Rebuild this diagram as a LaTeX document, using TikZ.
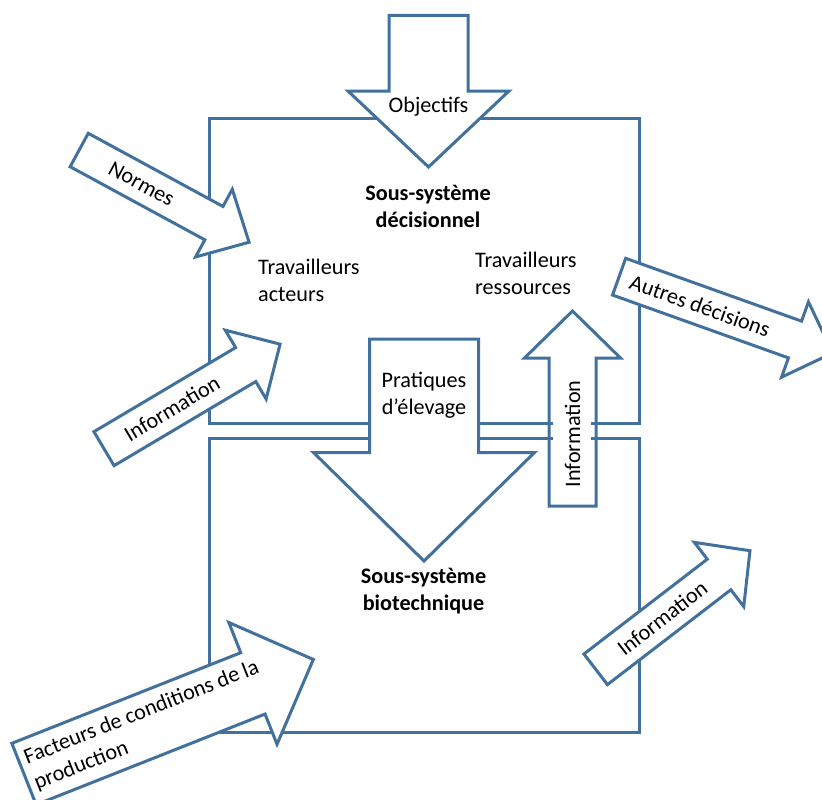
\documentclass[tikz,border=0pt]{standalone}
\usepackage{fontspec}
\setmainfont{Carlito}
\definecolor{boxblue}{HTML}{41719C}
\tikzset{
  frame/.style={draw=boxblue, line width=3pt, inner sep=0pt},
  bline/.style={draw=boxblue, line width=3pt},
  arrowbox/.style={draw=boxblue, line width=3pt, fill=white, line join=miter},
  lbl/.style={inner sep=0pt, font=\fontsize{22.2}{27}\selectfont, text=black},
  ttl/.style={lbl, font=\fontsize{22.2}{27}\selectfont\bfseries, align=center},
}
% #1 name, #2 tail centre, #3 angle, #4 length, #5 shaft width, #6 head width, #7 head length, #8 text position along axis
\newcommand{\fatarrow}[8]{%
  \begin{scope}[shift={#2}, rotate=#3]
    \draw[arrowbox] (0,{#5/2}) -- ({#4-#7},{#5/2}) -- ({#4-#7},{#6/2}) -- (#4,0)
      -- ({#4-#7},{-#6/2}) -- ({#4-#7},{-#5/2}) -- (0,{-#5/2}) -- cycle;
    \coordinate (#1) at (0,0);
    \coordinate (#1-t) at (#8,0);
  \end{scope}}
\begin{document}
\begin{tikzpicture}[x=1pt, y=-1pt]
  \useasboundingbox (0,0) rectangle (822,800);
  \clip (0,0) rectangle (822,800);
  \fill[white] (0,0) rectangle (822,800);
  % boxes
  \node[frame, minimum width=429.5pt, minimum height=305pt] (topbox) at (424.25,270.5) {};
  \node[frame, minimum width=429.5pt, minimum height=294pt] (botbox) at (424.25,585) {};
  % arrows
  \fatarrow{obj}{(428.5,15.5)}{-90}{151.5}{79}{161}{76}{91}
  \fatarrow{prat}{(424,339)}{-90}{222}{109}{221}{108.5}{56.5}
  \fatarrow{infoup}{(572.5,506)}{90}{195}{47}{96}{47}{72}
  \fatarrow{normes}{(79.2,150)}{-28.5}{193.3}{38}{77}{40}{71}
  \fatarrow{infol}{(104,448.7)}{30.7}{204.8}{39.5}{80}{40}{79}
  \fatarrow{autres}{(619.1,276.7)}{-19.65}{226.8}{39}{80}{40}{86}
  \fatarrow{infor}{(595.7,669.3)}{37.55}{194.6}{38.6}{81}{39}{84}
  \fatarrow{fact}{(24,774)}{21.6}{311.2}{66}{131}{65}{132}
  % stubs of box lines over the Information arrow
  \draw[bline] (546,423) -- (553,423);
  \draw[bline] (546,438) -- (553,438);
  \draw[bline] (591,423) -- (598,423);
  \draw[bline] (591,438) -- (598,438);
  % arrow texts
  \node[lbl] (objectifs) at (obj-t) {Objectifs};
  \node[lbl, align=center] (pratiques) at (prat-t) {Pratiques\\d’élevage};
  \node[lbl, rotate=90] (infouptext) at (infoup-t) {Information};
  \node[lbl, rotate=-28.5] (normestext) at (normes-t) {Normes};
  \node[lbl, rotate=30.7] (infoltext) at (infol-t) {Information};
  \node[lbl, rotate=-19.65] (autrestext) at (autres-t) {Autres décisions};
  \node[lbl, rotate=37.55] (infortext) at (infor-t) {Information};
  \node[lbl, rotate=21.6, align=left] (facttext) at (fact-t) {Facteurs de conditions de la\\production};
  % box texts
  \node[ttl] (dec) at (428,206.5) {Sous-système\\décisionnel};
  \node[ttl] (bio) at (423.5,591.5) {Sous-système\\biotechnique};
  \node[lbl, align=left, anchor=west] (acteurs) at (258,280) {Travailleurs\\acteurs};
  \node[lbl, align=left, anchor=west] (ress) at (475,273) {Travailleurs\\ressources};
\end{tikzpicture}
\end{document}
